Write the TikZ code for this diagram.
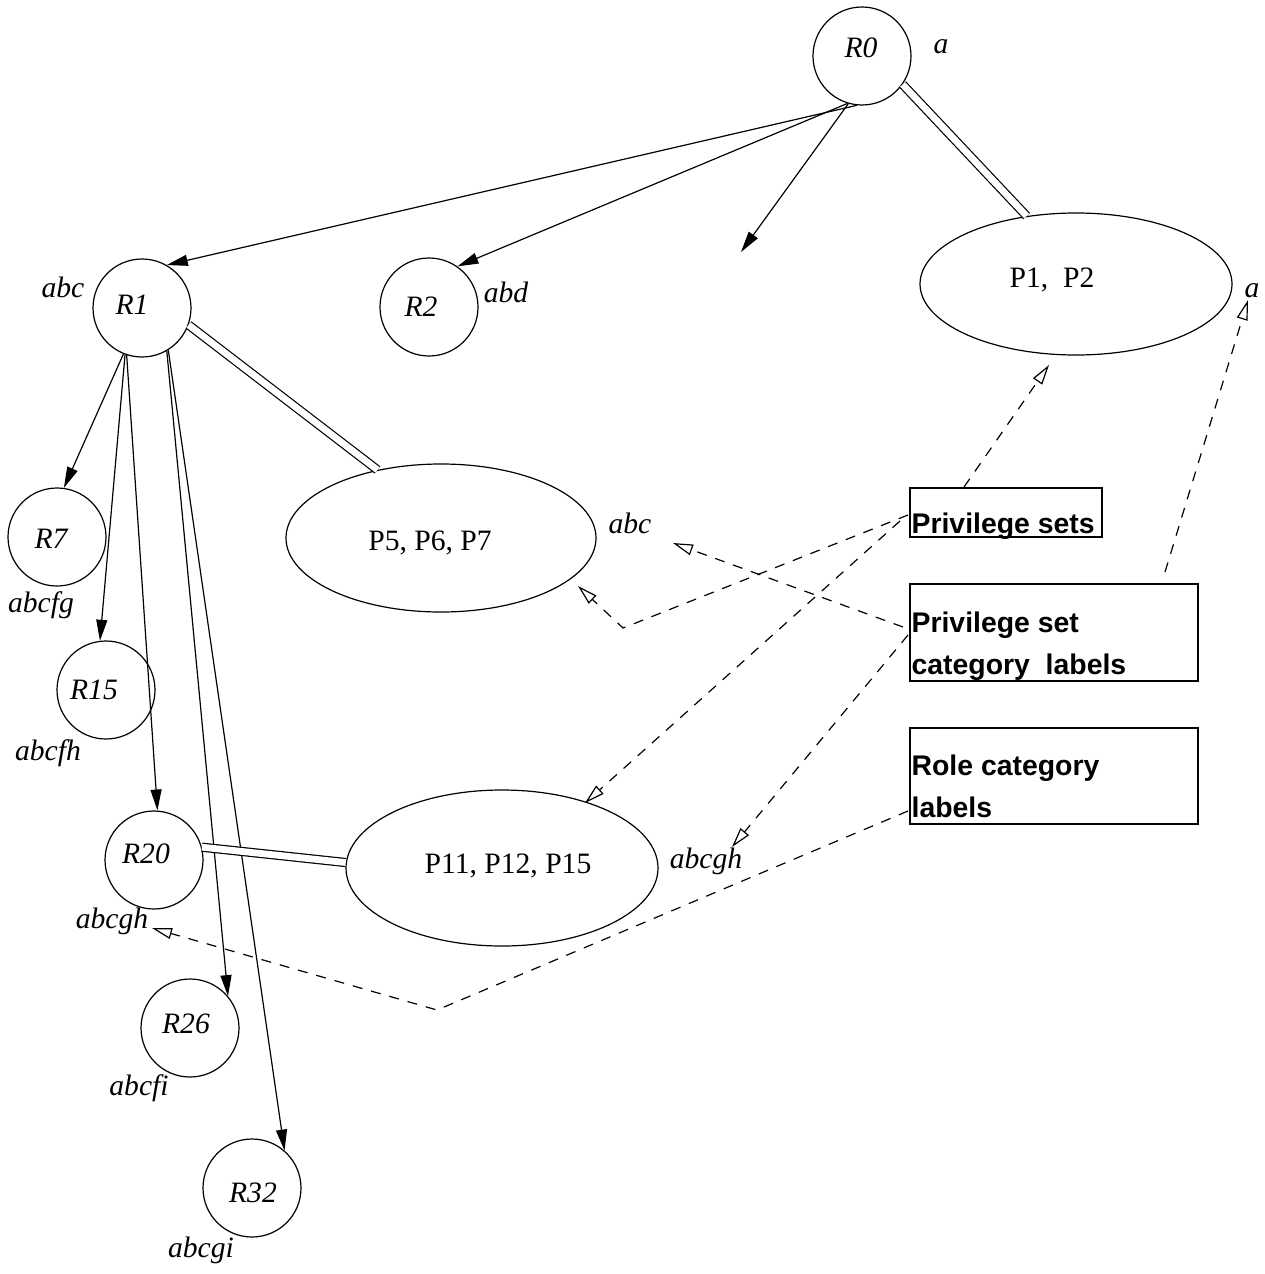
\documentclass[tikz,border=0pt]{standalone}
\usepackage{fontspec}
\setmainfont{Liberation Serif}
\newfontfamily\boxfont{Liberation Sans}
\usetikzlibrary{arrows.meta,shapes.geometric}
\begin{document}
\begin{tikzpicture}[x=0.5pt,y=-0.5pt,line width=0.6pt,
  role/.style={circle,draw,minimum size=49pt,inner sep=0pt},
  pset/.style={ellipse,draw,inner sep=0pt},
  rtxt/.style={font=\fontsize{14.8}{16}\selectfont\itshape,inner sep=0pt,anchor=base},
  ptxt/.style={font=\fontsize{14.8}{16}\selectfont,inner sep=0pt,anchor=base},
  btxt/.style={font=\boxfont\bfseries\fontsize{14.2}{16}\selectfont,inner sep=0pt,anchor=base west},
  bbox/.style={draw,line width=1pt,inner sep=0pt},
  inh/.style={-{Triangle[length=10.5pt,width=5.5pt]}},
  ref/.style={dash pattern=on 5pt off 4.5pt,-{Triangle[open,length=10pt,width=5.5pt]}},
  dbl/.style={double,double distance=3.4pt}]
\useasboundingbox (0,0) rectangle (1264,1274);

% role circles
\node[role] (R0) at (862,56) {};
\node[role] (R1) at (142,308) {};
\node[role] (R2) at (429,307) {};
\node[role] (R7) at (57,537) {};
\node[role] (R15) at (106,690) {};
\node[role] (R20) at (154,860) {};
\node[role] (R26) at (190,1028) {};
\node[role] (R32) at (252,1188) {};

% role names
\node[rtxt] (tR0) at (861,57) {R0};
\node[rtxt] (tR1) at (132,314) {R1};
\node[rtxt] (tR2) at (421,316) {R2};
\node[rtxt] (tR7) at (51,548) {R7};
\node[rtxt] (tR15) at (94,699) {R15};
\node[rtxt] (tR20) at (146,863) {R20};
\node[rtxt] (tR26) at (186,1033) {R26};
\node[rtxt] (tR32) at (253,1202) {R32};

% category labels
\node[rtxt] (lR0) at (941,53) {a};
\node[rtxt] (lR1) at (63,297) {abc};
\node[rtxt] (lR2) at (506,302) {abd};
\node[rtxt] (lR7) at (41,612) {abcfg};
\node[rtxt] (lR15) at (48,760) {abcfh};
\node[rtxt] (lR20) at (112,928) {abcgh};
\node[rtxt] (lR26) at (139,1095) {abcfi};
\node[rtxt] (lR32) at (201,1257) {abcgi};
\node[rtxt] (lP12) at (1252,297) {a};
\node[rtxt] (lP567) at (630,533) {abc};
\node[rtxt] (lP11) at (706,868) {abcgh};

% privilege set ellipses
\node[pset,minimum width=156pt,minimum height=71pt] (P12) at (1076,284) {};
\node[pset,minimum width=155pt,minimum height=74pt] (P567) at (441,538) {};
\node[pset,minimum width=156pt,minimum height=78pt] (P11) at (502,868) {};
\node[ptxt] (tP12) at (1052,287) {P1,~~P2};
\node[ptxt] (tP567) at (430,550) {P5, P6, P7};
\node[ptxt] (tP11) at (508,873) {P11, P12, P15};

% legend boxes
\node[bbox,minimum width=96pt,minimum height=24.5pt] (PS) at (1006,512.5) {};
\node[bbox,minimum width=144pt,minimum height=48.5pt] (PSCL) at (1054,632.5) {};
\node[bbox,minimum width=144pt,minimum height=48pt] (RCL) at (1054,776) {};
\node[btxt] (tPS) at (911,533) {Privilege sets};
\node[btxt] (tPSCL1) at (911,632) {Privilege set};
\node[btxt] (tPSCL2) at (911,674) {category~~labels};
\node[btxt] (tRCL1) at (911,775) {Role category};
\node[btxt] (tRCL2) at (911,817) {labels};

% hierarchy arrows
\coordinate (free) at (741,252);
\draw[inh] (R0.264) -- (R1.60);
\draw[inh] (R0.253) -- (R2.55);
\draw[inh] (R0.254) -- (free);
\draw[inh] (R1.248) -- (R7.82);
\draw[inh] (R1.250) -- (R15.97);
\draw[inh] (R1.252) -- (R20.86);
\draw[inh] (R1.300) -- (R26.40);
\draw[inh] (R1.302) -- (R32.49);

% role-privilege assignments
\draw[dbl] (R0.325) -- (P12.126);
\draw[dbl] (R1.340) -- (P567.133);
\draw[dbl] (R20.15) -- (P11.178);

% legend references
\coordinate (t1) at (1049,365);
\coordinate (s2) at (908,515);
\coordinate (c2) at (623,628);
\coordinate (t2) at (578,586);
\coordinate (s3) at (900,521);
\coordinate (t3) at (585,803);
\coordinate (s4) at (903,627);
\coordinate (t4) at (673,543);
\coordinate (s5) at (908,635);
\coordinate (t5) at (732,847);
\coordinate (s6) at (1165,572);
\coordinate (t6) at (1248,300);
\coordinate (s7) at (908,811);
\coordinate (c7) at (437,1010);
\coordinate (t7) at (152,928);
\draw[ref] ([xshift=27.5pt]PS.north west) -- (t1);
\draw[ref] (s2) -- (c2) -- (t2);
\draw[ref] (s3) -- (t3);
\draw[ref] (s4) -- (t4);
\draw[ref] (s5) -- (t5);
\draw[ref] (s6) -- (t6);
\draw[ref] (s7) -- (c7) -- (t7);
\end{tikzpicture}
\end{document}
